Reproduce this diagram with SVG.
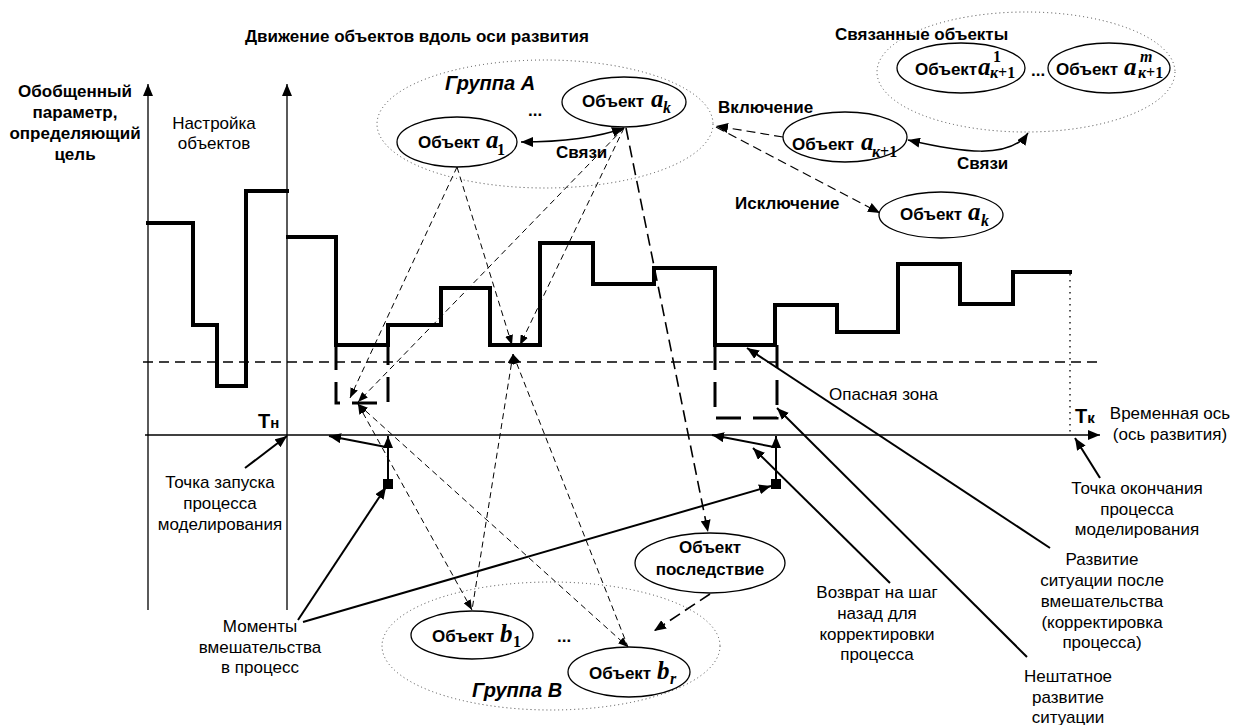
<svg xmlns="http://www.w3.org/2000/svg" width="1243" height="725" viewBox="0 0 1243 725">
<style>
text{font-family:"Liberation Sans",Arial,sans-serif;font-size:17px;fill:#000}
.b{font-weight:bold}
.bi{font-weight:bold;font-style:italic;font-size:20px}
.m{font-family:"Liberation Serif","Times New Roman",serif;font-style:italic;font-size:25px}
.s{font-family:"Liberation Serif","Times New Roman",serif;font-size:16px;font-style:normal}
.si{font-family:"Liberation Serif","Times New Roman",serif;font-size:16px;font-style:italic}
.step{fill:none;stroke:#000;stroke-width:4;stroke-linejoin:miter;stroke-linecap:square}
.axis{fill:none;stroke:#000;stroke-width:1.3}
.hd{fill:none;stroke:#000;stroke-width:1.3;stroke-dasharray:10,6}
.dz{fill:none;stroke:#000;stroke-width:3;stroke-dasharray:25,12}
.dl{fill:none;stroke:#000;stroke-width:1;stroke-dasharray:6,4}
.ld{fill:none;stroke:#000;stroke-width:1.6;stroke-dasharray:12,6}
.md{fill:none;stroke:#000;stroke-width:1.2;stroke-dasharray:9,5}
.sl{fill:none;stroke:#000;stroke-width:2}
.tl{fill:none;stroke:#000;stroke-width:1.5}
.dot{fill:none;stroke:#444;stroke-width:1;stroke-dasharray:1,3}
.ov{fill:#fff;stroke:#000;stroke-width:1.3}
</style>
<defs>
<marker id="ah" markerUnits="userSpaceOnUse" markerWidth="12" markerHeight="10" refX="12" refY="5" orient="auto-start-reverse"><path d="M0,0 L12,5 L0,10 z" fill="#000"/></marker>
<marker id="as" markerUnits="userSpaceOnUse" markerWidth="10" markerHeight="8" refX="10" refY="4" orient="auto-start-reverse"><path d="M0,0 L10,4 L0,8 z" fill="#000"/></marker>
</defs>

<g id="axes">
<line class="axis" x1="148" y1="610" x2="148" y2="84" marker-end="url(#ah)"/>
<line class="axis" x1="287" y1="610" x2="287" y2="84" marker-end="url(#ah)"/>
<line class="axis" x1="145" y1="435" x2="1100" y2="435" marker-end="url(#ah)"/>
<line class="hd" x1="143" y1="362" x2="1103" y2="362"/>
<line x1="1070" y1="274" x2="1070" y2="435" stroke="#000" stroke-width="1.3" stroke-dasharray="1.5,4.5"/>
</g>

<g id="process-curve">
<path class="step" d="M148,223 H193 V325 H217 V386 H246 V191 H287"/>
<path class="step" d="M288,237 H336 V345 H388 V325 H441 V288 H490 V345 H540 V243 H593 V284 H654 V268 H715 V345 H775 V305 H837 V332 H898 V264 H960 V304 H1013 V272 H1070"/>
<path class="dz" d="M336,345 V403 H388 V345"/>
<path class="dz" d="M715,345 V418 H777 V345"/>
</g>

<g id="connectors">
<line class="dl" x1="457" y1="167" x2="350" y2="398" marker-end="url(#as)"/>
<line class="dl" x1="457" y1="167" x2="512" y2="345" marker-end="url(#as)"/>
<line class="dl" x1="624" y1="128" x2="358" y2="402" marker-end="url(#as)"/>
<line class="dl" x1="624" y1="128" x2="520" y2="345" marker-end="url(#as)"/>
<line class="ld" x1="626" y1="128" x2="708" y2="532" marker-end="url(#ah)"/>
<line class="dl" x1="358" y1="404" x2="472" y2="610" marker-start="url(#as)" marker-end="url(#as)"/>
<line class="dl" x1="358" y1="404" x2="628" y2="647" marker-start="url(#as)" marker-end="url(#as)"/>
<line class="dl" x1="513" y1="354" x2="472" y2="610" marker-start="url(#as)"/>
<line class="dl" x1="513" y1="354" x2="628" y2="647" marker-start="url(#as)"/>
<line class="ld" x1="710" y1="594" x2="654" y2="631" marker-end="url(#ah)"/>
<path class="tl" d="M521,142 Q585,142 624,128" marker-start="url(#ah)" marker-end="url(#ah)"/>
<path class="tl" d="M908,140 C960,152 1010,160 1028,133" marker-start="url(#ah)" marker-end="url(#ah)"/>
<line class="md" x1="783" y1="137" x2="716" y2="126" marker-end="url(#ah)"/>
<line class="md" x1="716" y1="127" x2="880" y2="213" marker-end="url(#ah)"/>
<rect x="383" y="479" width="10" height="10" fill="#000"/>
<rect x="771" y="479" width="10" height="10" fill="#000"/>
<line class="sl" x1="388" y1="480" x2="388" y2="436" marker-end="url(#ah)"/>
<line class="sl" x1="386" y1="447" x2="329" y2="436" marker-end="url(#ah)"/>
<line class="sl" x1="776" y1="480" x2="776" y2="436" marker-end="url(#ah)"/>
<line class="sl" x1="774" y1="447" x2="712" y2="435" marker-end="url(#ah)"/>
<line class="sl" x1="245" y1="468" x2="287" y2="436" marker-end="url(#ah)"/>
<line class="sl" x1="298" y1="620" x2="386" y2="487" marker-end="url(#ah)"/>
<line class="sl" x1="303" y1="622" x2="771" y2="486" marker-end="url(#ah)"/>
<line class="sl" x1="890" y1="583" x2="753" y2="448" marker-end="url(#ah)"/>
<line class="sl" x1="1027" y1="657" x2="777" y2="408" marker-end="url(#ah)"/>
<line class="sl" x1="1050" y1="548" x2="747" y2="348" marker-end="url(#ah)"/>
<line class="sl" x1="1100" y1="478" x2="1075" y2="438" marker-end="url(#ah)"/>
</g>

<g id="group-a">
<ellipse class="dot" cx="545" cy="124" rx="168" ry="64"/>
<text class="bi" x="445" y="90">Группа А</text>
<text class="b" x="528" y="116">...</text>
</g>
<g id="obj-a1">
<ellipse class="ov" cx="457" cy="142" rx="60" ry="25"/>
<text class="b" x="418" y="148">Объект<tspan class="m" x="486">a</tspan><tspan class="s" x="497" y="155">1</tspan></text>
</g>
<g id="obj-ak">
<ellipse class="ov" cx="624" cy="102" rx="62" ry="25"/>
<text class="b" x="582" y="107">Объект <tspan class="m" x="651">a</tspan><tspan class="si" x="663" y="113">k</tspan></text>
</g>
<text class="b" x="556" y="158">Связи</text>

<g id="group-linked">
<ellipse class="dot" cx="1026" cy="72" rx="149" ry="60"/>
<text class="b" x="835" y="40">Связанные объекты</text>
<text class="b" x="1031" y="76">...</text>
</g>
<g id="obj-ak1-1">
<ellipse class="ov" cx="961" cy="68" rx="64" ry="25"/>
<text class="b" x="915" y="75">Объект<tspan class="m" x="978">a</tspan><tspan class="s" x="993" y="62">1</tspan><tspan class="si" x="990" y="78">к</tspan><tspan class="s">+1</tspan></text>
</g>
<g id="obj-ak1-m">
<ellipse class="ov" cx="1109" cy="68" rx="61" ry="25"/>
<text class="b" x="1056" y="75">Объект <tspan class="m" x="1124">a</tspan><tspan class="si" x="1140" y="62">m</tspan><tspan class="si" x="1138" y="78">к</tspan><tspan class="s">+1</tspan></text>
</g>
<g id="obj-ak1">
<ellipse class="ov" cx="845" cy="137" rx="62" ry="25"/>
<text class="b" x="792" y="150">Объект <tspan class="m" x="861">a</tspan><tspan class="si" x="872" y="157">к</tspan><tspan class="s">+1</tspan></text>
</g>
<g id="obj-ak-out">
<ellipse class="ov" cx="941" cy="215" rx="62" ry="23"/>
<text class="b" x="900" y="220">Объект <tspan class="m" x="968">a</tspan><tspan class="si" x="981" y="226">k</tspan></text>
</g>
<text class="b" x="718" y="113">Включение</text>
<text class="b" x="957" y="169">Связи</text>
<text class="b" x="735" y="209">Исключение</text>

<g id="obj-consequence">
<ellipse class="ov" cx="710" cy="563" rx="75" ry="30"/>
<text class="b" x="710" y="553" text-anchor="middle">Объект</text>
<text class="b" x="710" y="575" text-anchor="middle">последствие</text>
</g>

<g id="group-b">
<ellipse class="dot" cx="551" cy="646" rx="169" ry="64"/>
<text class="bi" x="472" y="697">Группа В</text>
<text class="b" x="557" y="642">...</text>
</g>
<g id="obj-b1">
<ellipse class="ov" cx="472" cy="635" rx="61" ry="24"/>
<text class="b" x="432" y="642">Объект <tspan class="m" x="500">b</tspan><tspan class="s" x="513" y="647">1</tspan></text>
</g>
<g id="obj-br">
<ellipse class="ov" cx="629" cy="672" rx="61" ry="25"/>
<text class="b" x="589" y="679">Объект <tspan class="m" x="657">b</tspan><tspan class="si" x="670" y="684">r</tspan></text>
</g>

<g id="labels">
<text class="b" x="245" y="42">Движение объектов вдоль оси развития</text>
<text class="b" text-anchor="middle"><tspan x="75" y="97">Обобщенный</tspan><tspan x="75" y="118">параметр,</tspan><tspan x="75" y="139">определяющий</tspan><tspan x="75" y="160">цель</tspan></text>
<text text-anchor="middle"><tspan x="214" y="129">Настройка</tspan><tspan x="214" y="149">объектов</tspan></text>
<text class="b" x="258" y="428"><tspan font-size="20">Т</tspan><tspan font-size="15">н</tspan></text>
<text class="b" x="1075" y="423"><tspan font-size="20">Т</tspan><tspan font-size="15">к</tspan></text>
<text text-anchor="middle"><tspan x="1170" y="419">Временная ось</tspan><tspan x="1170" y="440">(ось развития)</tspan></text>
<text x="829" y="400">Опасная зона</text>
<text text-anchor="middle"><tspan x="220" y="488">Точка запуска</tspan><tspan x="220" y="509">процесса</tspan><tspan x="220" y="530">моделирования</tspan></text>
<text text-anchor="middle"><tspan x="260" y="632">Моменты</tspan><tspan x="260" y="653">вмешательства</tspan><tspan x="260" y="673">в процесс</tspan></text>
<text text-anchor="middle"><tspan x="1137" y="494">Точка окончания</tspan><tspan x="1137" y="515">процесса</tspan><tspan x="1137" y="535">моделирования</tspan></text>
<text text-anchor="middle"><tspan x="1102" y="565">Развитие</tspan><tspan x="1102" y="586">ситуации после</tspan><tspan x="1102" y="607">вмешательства</tspan><tspan x="1102" y="628">(корректировка</tspan><tspan x="1102" y="648">процесса)</tspan></text>
<text text-anchor="middle"><tspan x="877" y="598">Возврат на шаг</tspan><tspan x="877" y="619">назад для</tspan><tspan x="877" y="640">корректировки</tspan><tspan x="877" y="660">процесса</tspan></text>
<text text-anchor="middle"><tspan x="1068" y="682">Нештатное</tspan><tspan x="1068" y="703">развитие</tspan><tspan x="1068" y="723">ситуации</tspan></text>
</g>
</svg>
